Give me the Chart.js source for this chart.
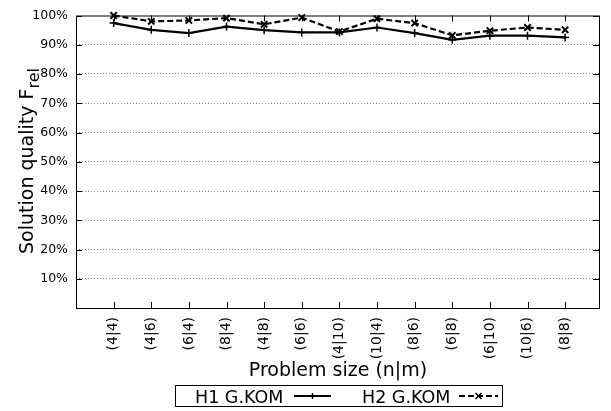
<!DOCTYPE html>
<html>
<head>
<meta charset="utf-8">
<script src="https://cdn.jsdelivr.net/npm/chart.js@4/dist/chart.umd.min.js"></script>
<style>
  html, body { margin: 0; padding: 0; background: #fff; }
  canvas { display: block; }
</style>
</head>
<body>
<canvas id="chart" width="611" height="411"></canvas>
<script>
// problem sizes (n|m)
const sizes = ['(4|4)', '(4|6)', '(6|4)', '(8|4)', '(4|8)', '(6|6)', '(4|10)',
               '(10|4)', '(8|6)', '(6|8)', '(6|10)', '(10|6)', '(8|8)'];
// solution quality in %
const h1Values = [97.4, 95.1, 94.0, 96.2, 95.0, 94.2, 94.2, 95.9, 94.0, 91.7, 93.1, 93.1, 92.5];
const h2Values = [100.0, 98.0, 98.3, 99.1, 97.0, 99.3, 94.5, 98.9, 97.4, 93.2, 94.8, 95.9, 95.1];
const seriesNames = ['H1 G.KOM', 'H2 G.KOM'];
const yTicks = [0, 10, 20, 30, 40, 50, 60, 70, 80, 90, 100];

const FONT = '"DejaVu Sans", sans-serif';

// gnuplot-like frame, mirrored tick marks, titles and legend
const framePlugin = {
    id: 'frame',
    afterDraw(chart) {
        const ctx = chart.ctx;
        const a = chart.chartArea;
        const xs = chart.scales.x, ys = chart.scales.y;
        ctx.save();
        ctx.strokeStyle = '#000';
        ctx.lineWidth = 1;
        ctx.setLineDash([]);
        ctx.strokeRect(a.left + 0.5, a.top + 0.5, a.right - a.left, a.bottom - a.top);

        ctx.beginPath();
        sizes.forEach((s, i) => {
            const x = Math.round(xs.getPixelForValue(i)) + 0.5;
            ctx.moveTo(x, a.bottom); ctx.lineTo(x, a.bottom - 6);
            ctx.moveTo(x, a.top); ctx.lineTo(x, a.top + 6);
        });
        yTicks.forEach(v => {
            const y = Math.round(ys.getPixelForValue(v)) + 0.5;
            ctx.moveTo(a.left, y); ctx.lineTo(a.left + 6, y);
            ctx.moveTo(a.right, y); ctx.lineTo(a.right - 6, y);
        });
        ctx.stroke();

        // y title with subscript
        ctx.fillStyle = '#000';
        ctx.translate(33, 161);
        ctx.rotate(-Math.PI / 2);
        const main = 'Solution quality F';
        const sub = 'rel';
        ctx.font = '16px ' + FONT;
        const subW = ctx.measureText(sub).width;
        ctx.font = '19px ' + FONT;
        const mainW = ctx.measureText(main).width;
        const start = -(mainW + subW) / 2;
        ctx.textBaseline = 'alphabetic';
        ctx.textAlign = 'left';
        ctx.fillText(main, start, 0);
        ctx.font = '16px ' + FONT;
        ctx.fillText(sub, start + mainW, 6);
        ctx.restore();

        // x title
        ctx.save();
        ctx.fillStyle = '#000';
        ctx.font = '19px ' + FONT;
        ctx.textAlign = 'center';
        ctx.textBaseline = 'alphabetic';
        ctx.fillText('Problem size (n|m)', 338, 376);

        // legend
        ctx.strokeStyle = '#000';
        ctx.lineWidth = 1;
        ctx.strokeRect(175.5, 385.5, 327, 21);
        ctx.font = '17.5px ' + FONT;
        ctx.textAlign = 'left';
        const entries = [
            { tx: 195, lx0: 294, lx1: 331, ds: chart.data.datasets[0] },
            { tx: 362, lx0: 459, lx1: 498, ds: chart.data.datasets[1] }
        ];
        entries.forEach(e => {
            ctx.fillText(e.ds.label, e.tx, 403);
            ctx.lineWidth = e.ds.borderWidth;
            ctx.setLineDash(e.ds.borderDash || []);
            ctx.beginPath();
            ctx.moveTo(e.lx0, 396); ctx.lineTo(e.lx1, 396);
            ctx.stroke();
            ctx.setLineDash([]);
            ctx.lineWidth = 1.5;
            const cx = (e.lx0 + e.lx1) / 2, r = 3;
            ctx.beginPath();
            if (e.ds.pointStyle === 'cross') {
                ctx.moveTo(cx - r, 396); ctx.lineTo(cx + r, 396);
                ctx.moveTo(cx, 396 - r); ctx.lineTo(cx, 396 + r);
            } else {
                ctx.moveTo(cx - r, 396 - r); ctx.lineTo(cx + r, 396 + r);
                ctx.moveTo(cx - r, 396 + r); ctx.lineTo(cx + r, 396 - r);
            }
            ctx.stroke();
        });
        ctx.restore();
    }
};

new Chart(document.getElementById('chart'), {
    type: 'line',
    data: {
        datasets: [
            {
                label: seriesNames[0],
                data: h1Values.map((v, i) => ({ x: i, y: v })),
                borderColor: '#000',
                borderWidth: 2.2,
                pointStyle: 'cross',
                pointRadius: 4,
                pointBorderWidth: 1.5,
                pointBorderColor: '#000',
                fill: false,
                tension: 0,
                clip: false
            },
            {
                label: seriesNames[1],
                data: h2Values.map((v, i) => ({ x: i, y: v })),
                borderColor: '#000',
                borderWidth: 2.2,
                borderDash: [6, 3],
                pointStyle: 'crossRot',
                pointRadius: 4.5,
                pointBorderWidth: 2,
                pointBorderColor: '#000',
                fill: false,
                tension: 0,
                clip: false
            }
        ]
    },
    options: {
        responsive: false,
        animation: false,
        events: [],
        layout: { padding: { top: 14, right: 12, left: 0, bottom: 0 } },
        plugins: {
            legend: { display: false },
            tooltip: { enabled: false }
        },
        scales: {
            x: {
                type: 'linear',
                min: -1,
                max: 12.9,
                afterBuildTicks: (scale) => { scale.ticks = sizes.map((s, i) => ({ value: i })); },
                afterFit: (scale) => { scale.height = 103; },
                grid: { display: false, drawTicks: false },
                border: { display: false },
                ticks: {
                    autoSkip: false,
                    minRotation: 90,
                    maxRotation: 90,
                    padding: 9,
                    color: '#000',
                    font: { family: FONT, size: 14 },
                    callback: (v) => sizes[v] || ''
                }
            },
            y: {
                min: 0,
                max: 100,
                afterBuildTicks: (scale) => { scale.ticks = yTicks.map(v => ({ value: v })); },
                afterFit: (scale) => { scale.width = 76; },
                grid: {
                    drawTicks: false,
                    color: (c) => (c.tick && (c.tick.value === 0 || c.tick.value === 100)) ? 'rgba(0,0,0,0)' : '#888',
                    lineWidth: 1
                },
                border: { display: false, dash: [1, 2] },
                ticks: {
                    padding: 8,
                    color: '#000',
                    font: { family: FONT, size: 12.5 },
                    callback: (v) => v === 0 ? '' : v + '%'
                }
            }
        }
    },
    plugins: [framePlugin]
});
</script>
</body>
</html>
